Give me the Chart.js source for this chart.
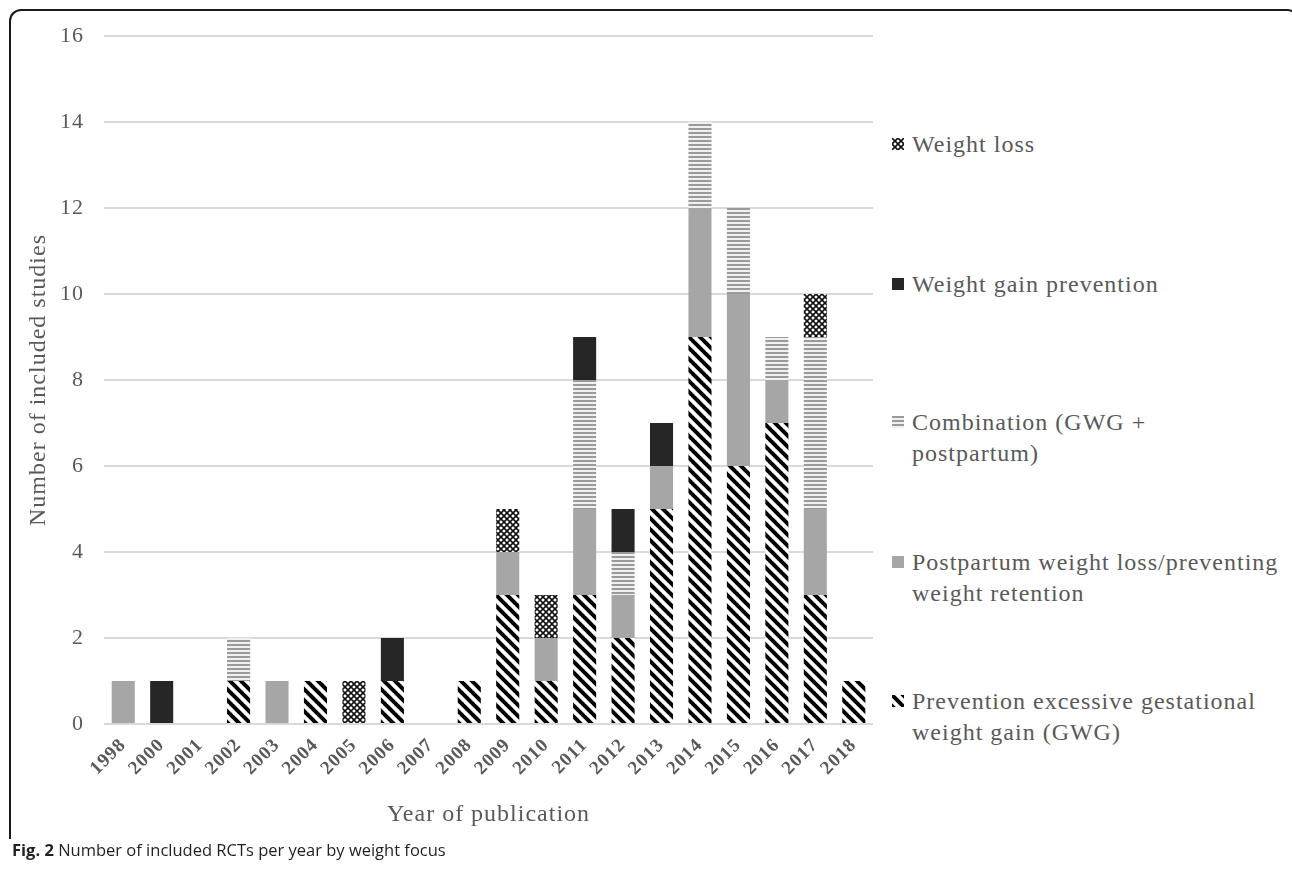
<!DOCTYPE html>
<html>
<head>
<meta charset="utf-8">
<script src="https://cdn.jsdelivr.net/npm/chart.js@4"></script>
<style>
  body { margin: 0; background: #fff; width: 1292px; height: 871px; overflow: hidden; position: relative; }
  #frame {
    position: absolute; left: 9px; top: 9px; width: 1290px; height: 830px;
    border: 2px solid #1a1a1a; border-bottom: none; border-radius: 12px 12px 0 0;
    box-sizing: border-box;
  }
  #wrap { position: absolute; left: 0; top: 0; width: 880px; height: 840px; }
  #legend { position: absolute; left: 0; top: 0; }
  .item {
    position: absolute; left: 912px; width: 380px;
    font-family: "Liberation Serif", "DejaVu Serif", serif; font-size: 24px;
    letter-spacing: 1px; line-height: 31px; color: #595959;
  }
  .item canvas { position: absolute; left: -20px; top: 9px; }
  #caption {
    position: absolute; left: 12px; top: 838px;
    font-family: "Open Sans", "Noto Sans", sans-serif; font-size: 16.5px; color: #231f20;
  }
  #caption b { font-weight: 700; }
</style>
</head>
<body>
<div id="frame"></div>
<div id="wrap"><canvas id="myChart"></canvas></div>
<div id="legend"></div>
<div id="caption"><b>Fig. 2</b> Number of included RCTs per year by weight focus</div>
<script>
const years = ['1998', '2000', '2001', '2002', '2003', '2004', '2005', '2006', '2007', '2008',
  '2009', '2010', '2011', '2012', '2013', '2014', '2015', '2016', '2017', '2018'];

// stacked bottom to top
const gwg         = [0, 0, 0, 1, 0, 1, 0, 1, 0, 1, 3, 1, 3, 2, 5, 9, 6, 7, 3, 1];
const postpartum  = [1, 0, 0, 0, 1, 0, 0, 0, 0, 0, 1, 1, 2, 1, 1, 3, 4, 1, 2, 0];
const combination = [0, 0, 0, 1, 0, 0, 0, 0, 0, 0, 0, 0, 3, 1, 0, 2, 2, 1, 4, 0];
const gainPrev    = [0, 1, 0, 0, 0, 0, 0, 1, 0, 0, 0, 0, 1, 1, 1, 0, 0, 0, 0, 0];
const weightLoss  = [0, 0, 0, 0, 0, 0, 1, 0, 0, 0, 1, 1, 0, 0, 0, 0, 0, 0, 1, 0];

const yTicks = [0, 2, 4, 6, 8, 10, 12, 14, 16];

const textGrey = '#595959';
const serif = '"Liberation Serif", "DejaVu Serif", serif';

// little tile canvases for the fills
const makeTile = (size, draw) => {
  let c = document.createElement('canvas');
  c.width = size; c.height = size;
  let ctx = c.getContext('2d');
  draw(ctx, size);
  return c;
}

const stripesTile = makeTile(11, (ctx, s) => {
  ctx.fillStyle = '#fff';
  ctx.fillRect(0, 0, s, s);
  ctx.strokeStyle = '#000';
  ctx.lineWidth = 4;
  [-s, 0, s].forEach(o => {
    ctx.beginPath();
    ctx.moveTo(o - 1, -1);
    ctx.lineTo(o + s + 1, s + 1);
    ctx.stroke();
  })
})

const hatchTile = makeTile(4, (ctx, s) => {
  ctx.fillStyle = '#f0f0f0';
  ctx.fillRect(0, 0, s, s);
  ctx.fillStyle = '#9a9a9a';
  ctx.fillRect(0, 0, s, 2);
})

const lossTile = makeTile(6, (ctx, s) => {
  ctx.fillStyle = '#fff';
  ctx.fillRect(0, 0, s, s);
  ctx.strokeStyle = '#111';
  ctx.lineWidth = 1.6;
  ctx.beginPath();
  ctx.moveTo(0, 0); ctx.lineTo(s, s);
  ctx.moveTo(s, 0); ctx.lineTo(0, s);
  ctx.stroke();
})

const pat = (tile) => document.createElement('canvas').getContext('2d').createPattern(tile, 'repeat');

const series = [
  { label: 'Prevention excessive gestational weight gain (GWG)', data: gwg, fill: pat(stripesTile) },
  { label: 'Postpartum weight loss/preventing weight retention', data: postpartum, fill: '#a6a6a6' },
  { label: 'Combination (GWG + postpartum)', data: combination, fill: pat(hatchTile) },
  { label: 'Weight gain prevention', data: gainPrev, fill: '#262626' },
  { label: 'Weight loss', data: weightLoss, fill: pat(lossTile) },
];

// the original text is set a bit wide
const spacing = {
  id: 'spacing',
  beforeDraw: (c) => { c.ctx.letterSpacing = '1px'; },
}

let ctx = document.getElementById('myChart').getContext('2d');
let chart = new Chart(ctx, {
  type: 'bar',
  data: {
    labels: years,
    datasets: series.map(s => ({
      label: s.label,
      data: s.data,
      backgroundColor: s.fill,
      borderWidth: 0,
      barPercentage: 0.6,
      categoryPercentage: 1,
    }))
  },
  plugins: [spacing],
  options: {
    responsive: true,
    maintainAspectRatio: false,
    animation: false,
    layout: { padding: { top: 36, right: 7, left: 0, bottom: 0 } },
    plugins: { legend: { display: false }, tooltip: { enabled: false } },
    scales: {
      x: {
        stacked: true,
        grid: { display: false },
        border: { display: false },
        ticks: {
          minRotation: 45, maxRotation: 45, autoSkip: false, padding: 2,
          color: textGrey,
          font: { family: serif, size: 19, weight: 'bold' },
        },
        title: {
          display: true, text: 'Year of publication', color: textGrey,
          font: { family: serif, size: 24 }, padding: { top: 0, bottom: 11 },
        },
        afterFit: (scale) => { scale.height = 116; },
      },
      y: {
        stacked: true,
        min: 0, max: 16,
        afterBuildTicks: (scale) => { scale.ticks = yTicks.map(v => ({ value: v })); },
        grid: { color: '#d9d9d9', lineWidth: 2, drawTicks: false },
        border: { display: false },
        ticks: { padding: 20, color: textGrey, font: { family: serif, size: 22 } },
        title: {
          display: true, text: 'Number of included studies', color: textGrey,
          font: { family: serif, size: 24 }, padding: { top: 24, bottom: 0 },
        },
        afterFit: (scale) => { scale.width = 104; },
      },
    },
  },
});

// legend, reversed like the original, spread down the right side
const legendRows = [
  { i: 4, top: 129, text: 'Weight loss' },
  { i: 3, top: 269, text: 'Weight gain prevention' },
  { i: 2, top: 407, text: 'Combination (GWG +<br>postpartum)' },
  { i: 1, top: 547, text: 'Postpartum weight loss/preventing<br>weight retention' },
  { i: 0, top: 686, text: 'Prevention excessive gestational<br>weight gain (GWG)' },
];
const legend = document.getElementById('legend');
legendRows.forEach(r => {
  let div = document.createElement('div');
  div.className = 'item';
  div.style.top = r.top + 'px';
  div.innerHTML = r.text;
  let sw = document.createElement('canvas');
  sw.width = 12; sw.height = 12;
  let sctx = sw.getContext('2d');
  sctx.fillStyle = series[r.i].fill;
  sctx.fillRect(0, 0, 12, 12);
  div.appendChild(sw);
  legend.appendChild(div);
})
</script>
</body>
</html>
